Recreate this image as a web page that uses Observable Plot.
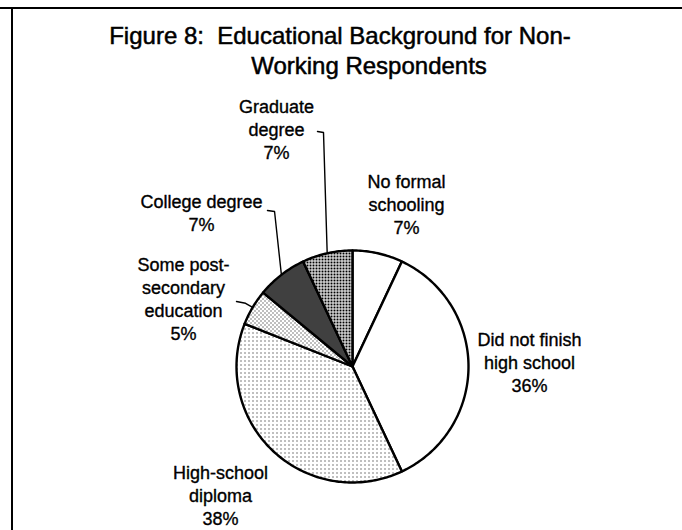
<!DOCTYPE html>
<html>
<head>
<meta charset="utf-8">
<script src="https://cdn.jsdelivr.net/npm/d3@7"></script>
<script src="https://cdn.jsdelivr.net/npm/@observablehq/plot@0.6"></script>
<style>
  html, body { margin: 0; padding: 0; background: #fff; }
  #wrap { position: relative; width: 682px; height: 530px; overflow: hidden; font-family: "Liberation Sans", Arial, sans-serif; color: #000; }
  #frameTop { position: absolute; left: 0; top: 7px; width: 682px; height: 2px; background: #000; }
  #frameLeft { position: absolute; left: 11px; top: 7px; width: 2px; height: 523px; background: #000; }
  #title { height: 84px; box-sizing: border-box; padding-top: 21px; font-size: 24px; line-height: 30px; -webkit-text-stroke: 0.5px #000; }
  #title div { text-align: center; width: 682px; position: relative; }
  #chart svg { display: block; }
</style>
</head>
<body>
<div id="wrap">
  <div id="title">
    <div id="t1" style="left:-1px">Figure 8:&nbsp; Educational Background for Non-</div>
    <div id="t2" style="left:28px">Working Respondents</div>
  </div>
  <div id="chart"></div>
  <div id="frameTop"></div>
  <div id="frameLeft"></div>
</div>
<script>
// ---- data ----
const categories = ["No formal schooling", "Did not finish high school", "High-school diploma",
                    "Some post-secondary education", "College degree", "Graduate degree"];
const shares = [7, 36, 38, 5, 7, 7];
const labelLines = [["No formal", "schooling"], ["Did not finish", "high school"], ["High-school", "diploma"],
                    ["Some post-", "secondary", "education"], ["College degree"], ["Graduate", "degree"]];

// ---- styles / layout (pie-radius units, y up) ----
const fills = ["white", "white", "url(#pHS)", "url(#pSP)", "url(#pCOL)", "url(#pGRAD)"];
const labelAt = [[0.466, 1.405], [1.526, 0.043], [-1.138, -1.103], [-1.457, 0.591], [-1.302, 1.328], [-0.655, 2.052]];
const leaderFrom = [null, null, null,
  [[-1.0, 0.560], [-0.922, 0.545]],
  [[-0.733, 1.345], [-0.672, 1.336]],
  [[-0.302, 2.026], [-0.250, 2.017]]];

const arcs = d3.pie().sort(null).value(d => d)(shares);

function slicePoints(a) {
  const pts = [{x: 0, y: 0}];
  const n = Math.max(2, Math.ceil((a.endAngle - a.startAngle) / (Math.PI / 180)));
  for (let i = 0; i <= n; i++) {
    const t = a.startAngle + (a.endAngle - a.startAngle) * i / n;
    pts.push({x: Math.sin(t), y: Math.cos(t)});
  }
  return pts;
}

const marks = [];
arcs.forEach((a, i) => {
  marks.push(Plot.line(slicePoints(a), {
    x: "x", y: "y", curve: "linear-closed",
    fill: fills[i], stroke: "black", strokeWidth: 2.4, strokeLinejoin: "round"
  }));
});

arcs.forEach((a, i) => {
  if (!leaderFrom[i]) return;
  const mid = (a.startAngle + a.endAngle) / 2;
  const pts = leaderFrom[i].map(([x, y]) => ({x, y}));
  pts.push({x: Math.sin(mid), y: Math.cos(mid)});
  marks.push(Plot.line(pts, {x: "x", y: "y", stroke: "black", strokeWidth: 1.4}));
});

const labels = categories.map((c, i) => ({
  x: labelAt[i][0], y: labelAt[i][1],
  text: [...labelLines[i], shares[i] + "%"].join("\n")
}));
marks.push(Plot.text(labels, {
  x: "x", y: "y", text: "text", fontSize: 18, lineHeight: 1.28,
  lineAnchor: "middle", textAnchor: "middle", fill: "black",
  stroke: "black", strokeWidth: 0.35
}));

const chart = Plot.plot({
  width: 682, height: 446, margin: 0,
  x: {domain: [-1, 1], range: [236, 468], axis: null},
  y: {domain: [-1, 1], range: [398, 166], axis: null},
  style: {fontFamily: "'Liberation Sans', Arial, sans-serif", background: "transparent", overflow: "visible", color: "black"},
  marks
});

const svg = chart.tagName.toLowerCase() === "svg" ? chart : chart.querySelector("svg");
const defs = d3.select(svg).insert("defs", ":first-child");
function pattern(id, size, bg, dots, dotColor) {
  const p = defs.append("pattern").attr("id", id).attr("patternUnits", "userSpaceOnUse")
    .attr("width", size).attr("height", size);
  p.append("rect").attr("width", size).attr("height", size).attr("fill", bg);
  dots.forEach(([x, y, s]) => p.append("rect").attr("x", x).attr("y", y).attr("width", s).attr("height", s).attr("fill", dotColor));
}
pattern("pHS", 4, "white", [[0, 0, 1]], "black");
pattern("pSP", 4, "white", [[0, 0, 1], [2, 2, 1]], "black");
pattern("pGRAD", 3, "white", [[0, 0, 2]], "black");
pattern("pCOL", 2, "black", [[0, 0, 1]], "white");

document.getElementById("chart").appendChild(chart);
</script>
</body>
</html>
